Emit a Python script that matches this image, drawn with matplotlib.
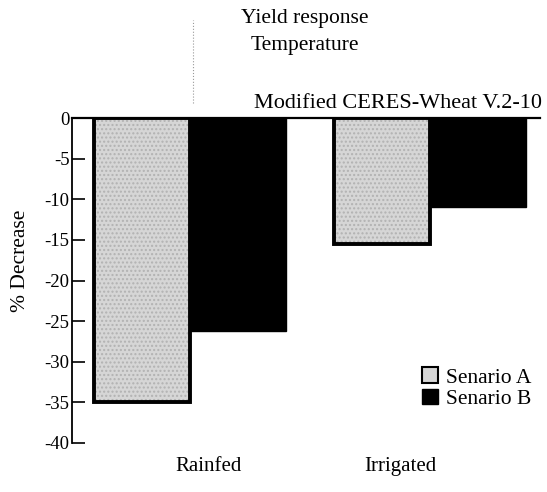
import matplotlib

matplotlib.use("Agg")
import matplotlib.pyplot as plt
import numpy as np
from matplotlib.lines import Line2D
from matplotlib.patches import Patch

# data
categories = ["Rainfed", "Irrigated"]
senario_a = [-35.0, -15.5]
senario_b = [-26.2, -11.0]
series_names = ["Senario A", "Senario B"]
yticks = [0, -5, -10, -15, -20, -25, -30, -35, -40]

plt.rcParams["font.family"] = ["Liberation Serif", "DejaVu Serif"]

fig = plt.figure(figsize=(5.47, 4.92), dpi=100)
ax = fig.add_axes([0.132, 0.0996, 0.855, 0.6604])

x = np.arange(len(categories))
w = 0.4
# stippled grey fill, then a heavy black outline on top
ax.bar(x - w / 2, senario_a, width=w, color="#d6d6d6", edgecolor="#b2b2b2",
       hatch="....", linewidth=0, zorder=2)
ax.bar(x - w / 2, senario_a, width=w, fill=False, edgecolor="black",
       linewidth=2.8, zorder=3)
ax.bar(x + w / 2, senario_b, width=w, color="black", edgecolor="black",
       linewidth=1, zorder=2)

ax.set_xlim(-0.49, 1.458)
ax.set_ylim(-40, 0)
ax.set_yticks(yticks)
ax.set_yticklabels([str(t) for t in yticks], fontsize=13.5)
ax.tick_params(axis="y", direction="in", length=9, width=1.2, pad=2)

# category labels sit a bit off the group centres in the original
ax.set_xticks(x + np.array([0.08, -0.125]))
ax.set_xticklabels(categories, fontsize=15)
ax.tick_params(axis="x", length=0, pad=10)

for s in ("right", "bottom"):
    ax.spines[s].set_visible(False)
ax.spines["left"].set_linewidth(1.3)
ax.spines["top"].set_linewidth(1.6)

ax.set_ylabel("% Decrease", fontsize=15.5)
ax.yaxis.set_label_coords(-0.09, 0.56)

handles = [
    Patch(facecolor="#d6d6d6", edgecolor="black", linewidth=1.5),
    Patch(facecolor="black", edgecolor="black"),
]
ax.legend(handles, series_names, loc="lower right",
          bbox_to_anchor=(1.0, 0.078), frameon=False, fontsize=15.5,
          handlelength=0.75, handleheight=0.75, handletextpad=0.35,
          labelspacing=0.05, borderaxespad=0)

fig.text(0.557, 0.962, "Yield response", ha="center", va="center", fontsize=15.5)
fig.text(0.557, 0.908, "Temperature", ha="center", va="center", fontsize=15.5)
fig.text(0.99, 0.789, "Modified CERES-Wheat V.2-10", ha="right", va="center",
         fontsize=16)

# faint vertical scan mark next to the title
fig.add_artist(Line2D([0.353, 0.353], [0.79, 0.96], color="#999999",
                      linewidth=0.8, linestyle=":"))

fig.savefig("out.png", dpi=100)
